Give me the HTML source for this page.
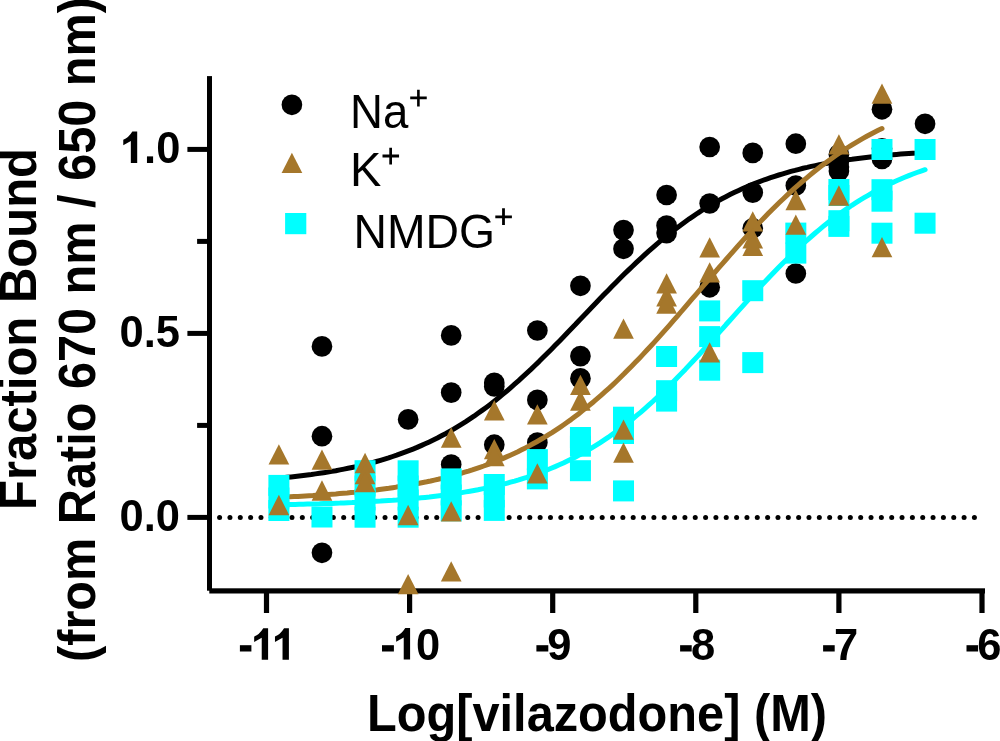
<!DOCTYPE html>
<html><head><meta charset="utf-8"><style>
html,body{margin:0;padding:0;background:#fff;}
body{width:1000px;height:741px;overflow:hidden;position:relative;}
svg{position:absolute;left:0;top:0;will-change:transform;}
text{font-family:"Liberation Sans",sans-serif;fill:#000;}
</style></head><body>
<svg width="1000" height="741" viewBox="0 0 1000 741">
<rect width="1000" height="741" fill="#fff"/>
<g fill="#000">
<rect x="207" y="76.1" width="5" height="514.6"/>
<rect x="209.3" y="588.3" width="775.7" height="5.2"/>
<rect x="187.4" y="146.90" width="22" height="5"/>
<rect x="187.4" y="330.90" width="22" height="5"/>
<rect x="187.4" y="514.90" width="22" height="5"/>
<rect x="197.1" y="238.90" width="12" height="5"/>
<rect x="197.1" y="422.90" width="12" height="5"/>
<rect x="263.90" y="590" width="5.2" height="23"/>
<rect x="407.00" y="590" width="5.2" height="23"/>
<rect x="550.10" y="590" width="5.2" height="23"/>
<rect x="693.20" y="590" width="5.2" height="23"/>
<rect x="836.30" y="590" width="5.2" height="23"/>
<rect x="979.40" y="590" width="5.2" height="23"/>
</g>
<g fill="#000"><circle cx="219.60" cy="517.4" r="2.5"/><circle cx="229.94" cy="517.4" r="2.5"/><circle cx="240.28" cy="517.4" r="2.5"/><circle cx="250.62" cy="517.4" r="2.5"/><circle cx="260.96" cy="517.4" r="2.5"/><circle cx="271.30" cy="517.4" r="2.5"/><circle cx="281.64" cy="517.4" r="2.5"/><circle cx="291.98" cy="517.4" r="2.5"/><circle cx="302.32" cy="517.4" r="2.5"/><circle cx="312.66" cy="517.4" r="2.5"/><circle cx="323.00" cy="517.4" r="2.5"/><circle cx="333.34" cy="517.4" r="2.5"/><circle cx="343.68" cy="517.4" r="2.5"/><circle cx="354.02" cy="517.4" r="2.5"/><circle cx="364.36" cy="517.4" r="2.5"/><circle cx="374.70" cy="517.4" r="2.5"/><circle cx="385.04" cy="517.4" r="2.5"/><circle cx="395.38" cy="517.4" r="2.5"/><circle cx="405.72" cy="517.4" r="2.5"/><circle cx="416.06" cy="517.4" r="2.5"/><circle cx="426.40" cy="517.4" r="2.5"/><circle cx="436.74" cy="517.4" r="2.5"/><circle cx="447.08" cy="517.4" r="2.5"/><circle cx="457.42" cy="517.4" r="2.5"/><circle cx="467.76" cy="517.4" r="2.5"/><circle cx="478.10" cy="517.4" r="2.5"/><circle cx="488.44" cy="517.4" r="2.5"/><circle cx="498.78" cy="517.4" r="2.5"/><circle cx="509.12" cy="517.4" r="2.5"/><circle cx="519.46" cy="517.4" r="2.5"/><circle cx="529.80" cy="517.4" r="2.5"/><circle cx="540.14" cy="517.4" r="2.5"/><circle cx="550.48" cy="517.4" r="2.5"/><circle cx="560.82" cy="517.4" r="2.5"/><circle cx="571.16" cy="517.4" r="2.5"/><circle cx="581.50" cy="517.4" r="2.5"/><circle cx="591.84" cy="517.4" r="2.5"/><circle cx="602.18" cy="517.4" r="2.5"/><circle cx="612.52" cy="517.4" r="2.5"/><circle cx="622.86" cy="517.4" r="2.5"/><circle cx="633.20" cy="517.4" r="2.5"/><circle cx="643.54" cy="517.4" r="2.5"/><circle cx="653.88" cy="517.4" r="2.5"/><circle cx="664.22" cy="517.4" r="2.5"/><circle cx="674.56" cy="517.4" r="2.5"/><circle cx="684.90" cy="517.4" r="2.5"/><circle cx="695.24" cy="517.4" r="2.5"/><circle cx="705.58" cy="517.4" r="2.5"/><circle cx="715.92" cy="517.4" r="2.5"/><circle cx="726.26" cy="517.4" r="2.5"/><circle cx="736.60" cy="517.4" r="2.5"/><circle cx="746.94" cy="517.4" r="2.5"/><circle cx="757.28" cy="517.4" r="2.5"/><circle cx="767.62" cy="517.4" r="2.5"/><circle cx="777.96" cy="517.4" r="2.5"/><circle cx="788.30" cy="517.4" r="2.5"/><circle cx="798.64" cy="517.4" r="2.5"/><circle cx="808.98" cy="517.4" r="2.5"/><circle cx="819.32" cy="517.4" r="2.5"/><circle cx="829.66" cy="517.4" r="2.5"/><circle cx="840.00" cy="517.4" r="2.5"/><circle cx="850.34" cy="517.4" r="2.5"/><circle cx="860.68" cy="517.4" r="2.5"/><circle cx="871.02" cy="517.4" r="2.5"/><circle cx="881.36" cy="517.4" r="2.5"/><circle cx="891.70" cy="517.4" r="2.5"/><circle cx="902.04" cy="517.4" r="2.5"/><circle cx="912.38" cy="517.4" r="2.5"/><circle cx="922.72" cy="517.4" r="2.5"/><circle cx="933.06" cy="517.4" r="2.5"/><circle cx="943.40" cy="517.4" r="2.5"/><circle cx="953.74" cy="517.4" r="2.5"/><circle cx="964.08" cy="517.4" r="2.5"/><circle cx="974.42" cy="517.4" r="2.5"/></g>
<g fill="#000"><circle cx="925.05" cy="123.8" r="10.35"/><circle cx="881.98" cy="109.3" r="10.35"/><circle cx="881.98" cy="148.4" r="10.35"/><circle cx="881.98" cy="158.9" r="10.35"/><circle cx="838.90" cy="154.4" r="10.35"/><circle cx="838.90" cy="161" r="10.35"/><circle cx="838.90" cy="167" r="10.35"/><circle cx="838.90" cy="171" r="10.35"/><circle cx="795.82" cy="143.7" r="10.35"/><circle cx="795.82" cy="185.5" r="10.35"/><circle cx="795.82" cy="273.5" r="10.35"/><circle cx="752.75" cy="152.9" r="10.35"/><circle cx="752.75" cy="192.6" r="10.35"/><circle cx="752.75" cy="228.3" r="10.35"/><circle cx="709.67" cy="147" r="10.35"/><circle cx="709.67" cy="203.5" r="10.35"/><circle cx="709.67" cy="287.3" r="10.35"/><circle cx="666.59" cy="195" r="10.35"/><circle cx="666.59" cy="225.6" r="10.35"/><circle cx="666.59" cy="233.1" r="10.35"/><circle cx="623.51" cy="230.1" r="10.35"/><circle cx="623.51" cy="248.8" r="10.35"/><circle cx="580.44" cy="285.8" r="10.35"/><circle cx="580.44" cy="356.1" r="10.35"/><circle cx="580.44" cy="378.4" r="10.35"/><circle cx="537.36" cy="330.5" r="10.35"/><circle cx="537.36" cy="399.9" r="10.35"/><circle cx="537.36" cy="442.6" r="10.35"/><circle cx="494.28" cy="382.9" r="10.35"/><circle cx="494.28" cy="386.4" r="10.35"/><circle cx="494.28" cy="444.7" r="10.35"/><circle cx="451.20" cy="335.4" r="10.35"/><circle cx="451.20" cy="392.6" r="10.35"/><circle cx="451.20" cy="464.6" r="10.35"/><circle cx="408.13" cy="419.4" r="10.35"/><circle cx="321.97" cy="346.4" r="10.35"/><circle cx="321.97" cy="436.2" r="10.35"/><circle cx="321.97" cy="552.8" r="10.35"/></g>
<path d="M278.9,478.1 283.0,477.7 287.0,477.3 291.1,476.9 295.1,476.5 299.2,476.0 303.3,475.5 307.3,475.0 311.4,474.5 315.5,473.9 319.5,473.3 323.6,472.7 327.7,472.1 331.7,471.4 335.8,470.7 339.9,469.9 343.9,469.1 348.0,468.3 352.0,467.5 356.1,466.6 360.2,465.7 364.2,464.7 368.3,463.7 372.4,462.6 376.4,461.5 380.5,460.3 384.6,459.1 388.6,457.9 392.7,456.5 396.7,455.2 400.8,453.7 404.9,452.2 408.9,450.7 413.0,449.1 417.1,447.4 421.1,445.6 425.2,443.8 429.3,441.9 433.3,440.0 437.4,438.0 441.5,435.8 445.5,433.7 449.6,431.4 453.6,429.1 457.7,426.6 461.8,424.1 465.8,421.6 469.9,418.9 474.0,416.2 478.0,413.3 482.1,410.4 486.2,407.4 490.2,404.4 494.3,401.2 498.3,398.0 502.4,394.6 506.5,391.3 510.5,387.8 514.6,384.2 518.7,380.6 522.7,376.9 526.8,373.2 530.9,369.4 534.9,365.5 539.0,361.6 543.0,357.6 547.1,353.5 551.2,349.4 555.2,345.3 559.3,341.2 563.4,337.0 567.4,332.8 571.5,328.5 575.6,324.3 579.6,320.0 583.7,315.8 587.8,311.5 591.8,307.3 595.9,303.0 599.9,298.8 604.0,294.6 608.1,290.4 612.1,286.3 616.2,282.2 620.3,278.1 624.3,274.1 628.4,270.1 632.5,266.2 636.5,262.4 640.6,258.6 644.6,254.9 648.7,251.2 652.8,247.6 656.8,244.1 660.9,240.7 665.0,237.3 669.0,234.0 673.1,230.8 677.2,227.7 681.2,224.7 685.3,221.7 689.3,218.8 693.4,216.1 697.5,213.3 701.5,210.7 705.6,208.2 709.7,205.7 713.7,203.3 717.8,201.0 721.9,198.8 725.9,196.7 730.0,194.6 734.1,192.6 738.1,190.7 742.2,188.8 746.2,187.0 750.3,185.3 754.4,183.6 758.4,182.1 762.5,180.5 766.6,179.1 770.6,177.7 774.7,176.3 778.8,175.0 782.8,173.8 786.9,172.6 790.9,171.4 795.0,170.4 799.1,169.3 803.1,168.3 807.2,167.4 811.3,166.4 815.3,165.6 819.4,164.7 823.5,163.9 827.5,163.2 831.6,162.4 835.6,161.8 839.7,161.1 843.8,160.5 847.8,159.8 851.9,159.3 856.0,158.7 860.0,158.2 864.1,157.7 868.2,157.2 872.2,156.8 876.3,156.3 880.4,155.9 884.4,155.5 888.5,155.1 892.5,154.8 896.6,154.4 900.7,154.1 904.7,153.8 908.8,153.5 912.9,153.2 916.9,153.0 921.0,152.7 925.1,152.5" fill="none" stroke="#000" stroke-width="5" stroke-linecap="round" stroke-linejoin="round"/>
<path d="M278.9,497.3 282.7,497.2 286.5,497.0 290.3,496.8 294.1,496.6 297.9,496.4 301.7,496.2 305.4,496.0 309.2,495.8 313.0,495.6 316.8,495.3 320.6,495.1 324.4,494.8 328.2,494.5 332.0,494.2 335.8,494.0 339.6,493.6 343.4,493.3 347.2,493.0 351.0,492.6 354.8,492.3 358.5,491.9 362.3,491.5 366.1,491.1 369.9,490.7 373.7,490.2 377.5,489.8 381.3,489.3 385.1,488.8 388.9,488.3 392.7,487.7 396.5,487.1 400.3,486.6 404.1,485.9 407.9,485.3 411.6,484.7 415.4,484.0 419.2,483.3 423.0,482.5 426.8,481.8 430.6,481.0 434.4,480.1 438.2,479.3 442.0,478.4 445.8,477.4 449.6,476.5 453.4,475.5 457.2,474.4 461.0,473.4 464.7,472.2 468.5,471.1 472.3,469.9 476.1,468.6 479.9,467.3 483.7,466.0 487.5,464.6 491.3,463.2 495.1,461.7 498.9,460.2 502.7,458.6 506.5,456.9 510.3,455.2 514.1,453.5 517.9,451.7 521.6,449.8 525.4,447.9 529.2,445.9 533.0,443.8 536.8,441.7 540.6,439.5 544.4,437.3 548.2,434.9 552.0,432.6 555.8,430.1 559.6,427.6 563.4,425.0 567.2,422.3 571.0,419.6 574.7,416.8 578.5,413.9 582.3,410.9 586.1,407.9 589.9,404.8 593.7,401.7 597.5,398.4 601.3,395.1 605.1,391.7 608.9,388.3 612.7,384.8 616.5,381.2 620.3,377.5 624.1,373.8 627.8,370.0 631.6,366.2 635.4,362.3 639.2,358.4 643.0,354.4 646.8,350.3 650.6,346.2 654.4,342.1 658.2,337.9 662.0,333.6 665.8,329.4 669.6,325.1 673.4,320.7 677.2,316.4 680.9,312.0 684.7,307.6 688.5,303.2 692.3,298.7 696.1,294.3 699.9,289.9 703.7,285.4 707.5,281.0 711.3,276.6 715.1,272.1 718.9,267.7 722.7,263.4 726.5,259.0 730.3,254.7 734.1,250.4 737.8,246.1 741.6,241.9 745.4,237.7 749.2,233.6 753.0,229.5 756.8,225.4 760.6,221.4 764.4,217.5 768.2,213.6 772.0,209.8 775.8,206.0 779.6,202.3 783.4,198.7 787.2,195.1 790.9,191.6 794.7,188.1 798.5,184.8 802.3,181.5 806.1,178.3 809.9,175.1 813.7,172.0 817.5,169.0 821.3,166.1 825.1,163.2 828.9,160.4 832.7,157.7 836.5,155.0 840.3,152.4 844.0,149.9 847.8,147.5 851.6,145.1 855.4,142.8 859.2,140.6 863.0,138.4 866.8,136.3 870.6,134.2 874.4,132.2 878.2,130.3 882.0,128.5" fill="none" stroke="#A5772B" stroke-width="5" stroke-linecap="round" stroke-linejoin="round"/>
<path d="M278.9,504.7 283.0,504.6 287.0,504.6 291.1,504.5 295.1,504.4 299.2,504.3 303.3,504.2 307.3,504.1 311.4,504.0 315.5,503.9 319.5,503.8 323.6,503.6 327.7,503.5 331.7,503.4 335.8,503.2 339.9,503.1 343.9,502.9 348.0,502.7 352.0,502.6 356.1,502.4 360.2,502.2 364.2,502.0 368.3,501.8 372.4,501.5 376.4,501.3 380.5,501.1 384.6,500.8 388.6,500.5 392.7,500.3 396.7,500.0 400.8,499.6 404.9,499.3 408.9,499.0 413.0,498.6 417.1,498.2 421.1,497.8 425.2,497.4 429.3,497.0 433.3,496.5 437.4,496.0 441.5,495.5 445.5,495.0 449.6,494.4 453.6,493.9 457.7,493.2 461.8,492.6 465.8,491.9 469.9,491.2 474.0,490.5 478.0,489.8 482.1,488.9 486.2,488.1 490.2,487.2 494.3,486.3 498.3,485.4 502.4,484.4 506.5,483.3 510.5,482.2 514.6,481.1 518.7,479.9 522.7,478.6 526.8,477.4 530.9,476.0 534.9,474.6 539.0,473.1 543.0,471.6 547.1,470.0 551.2,468.3 555.2,466.6 559.3,464.8 563.4,463.0 567.4,461.0 571.5,459.0 575.6,456.9 579.6,454.8 583.7,452.5 587.8,450.2 591.8,447.8 595.9,445.3 599.9,442.8 604.0,440.1 608.1,437.4 612.1,434.5 616.2,431.6 620.3,428.6 624.3,425.5 628.4,422.4 632.5,419.1 636.5,415.7 640.6,412.3 644.6,408.8 648.7,405.2 652.8,401.5 656.8,397.7 660.9,393.9 665.0,390.0 669.0,386.0 673.1,382.0 677.2,377.8 681.2,373.6 685.3,369.4 689.3,365.1 693.4,360.8 697.5,356.4 701.5,352.0 705.6,347.5 709.7,343.0 713.7,338.5 717.8,333.9 721.9,329.4 725.9,324.8 730.0,320.3 734.1,315.7 738.1,311.2 742.2,306.6 746.2,302.1 750.3,297.6 754.4,293.2 758.4,288.8 762.5,284.4 766.6,280.0 770.6,275.8 774.7,271.5 778.8,267.3 782.8,263.2 786.9,259.2 790.9,255.2 795.0,251.3 799.1,247.5 803.1,243.7 807.2,240.1 811.3,236.5 815.3,233.0 819.4,229.6 823.5,226.2 827.5,223.0 831.6,219.8 835.6,216.8 839.7,213.8 843.8,210.9 847.8,208.1 851.9,205.3 856.0,202.7 860.0,200.1 864.1,197.7 868.2,195.3 872.2,193.0 876.3,190.8 880.4,188.6 884.4,186.5 888.5,184.5 892.5,182.6 896.6,180.8 900.7,179.0 904.7,177.3 908.8,175.6 912.9,174.0 916.9,172.5 921.0,171.1 925.1,169.7" fill="none" stroke="#00FFFF" stroke-width="5" stroke-linecap="round" stroke-linejoin="round"/>
<g fill="#00FFFF"><rect x="914.55" y="139.00" width="21" height="21"/><rect x="914.55" y="212.70" width="21" height="21"/><rect x="871.48" y="139.00" width="21" height="21"/><rect x="871.48" y="179.20" width="21" height="21"/><rect x="871.48" y="190.70" width="21" height="21"/><rect x="871.48" y="222.70" width="21" height="21"/><rect x="828.40" y="179.00" width="21" height="21"/><rect x="828.40" y="185.00" width="21" height="21"/><rect x="828.40" y="210.20" width="21" height="21"/><rect x="828.40" y="215.90" width="21" height="21"/><rect x="785.32" y="222.60" width="21" height="21"/><rect x="785.32" y="242.60" width="21" height="21"/><rect x="742.25" y="280.20" width="21" height="21"/><rect x="742.25" y="352.10" width="21" height="21"/><rect x="699.17" y="300.40" width="21" height="21"/><rect x="699.17" y="326.10" width="21" height="21"/><rect x="699.17" y="359.70" width="21" height="21"/><rect x="656.09" y="346.00" width="21" height="21"/><rect x="656.09" y="380.20" width="21" height="21"/><rect x="656.09" y="390.60" width="21" height="21"/><rect x="613.01" y="406.70" width="21" height="21"/><rect x="613.01" y="423.00" width="21" height="21"/><rect x="613.01" y="480.40" width="21" height="21"/><rect x="569.94" y="427.00" width="21" height="21"/><rect x="569.94" y="435.70" width="21" height="21"/><rect x="569.94" y="460.20" width="21" height="21"/><rect x="526.86" y="449.10" width="21" height="21"/><rect x="526.86" y="468.40" width="21" height="21"/><rect x="483.78" y="474.00" width="21" height="21"/><rect x="483.78" y="486.50" width="21" height="21"/><rect x="483.78" y="499.90" width="21" height="21"/><rect x="440.70" y="468.40" width="21" height="21"/><rect x="440.70" y="484.50" width="21" height="21"/><rect x="440.70" y="500.30" width="21" height="21"/><rect x="397.63" y="460.30" width="21" height="21"/><rect x="397.63" y="475.50" width="21" height="21"/><rect x="397.63" y="489.50" width="21" height="21"/><rect x="397.63" y="506.70" width="21" height="21"/><rect x="354.55" y="460.20" width="21" height="21"/><rect x="354.55" y="475.50" width="21" height="21"/><rect x="354.55" y="489.50" width="21" height="21"/><rect x="354.55" y="506.70" width="21" height="21"/><rect x="311.47" y="506.50" width="21" height="21"/><rect x="268.39" y="474.90" width="21" height="21"/><rect x="268.39" y="487.50" width="21" height="21"/><rect x="268.39" y="500.00" width="21" height="21"/></g>
<g fill="#A5772B"><path d="M881.98,83.45L892.33,103.75L871.63,103.75Z"/><path d="M881.98,237.05L892.33,257.35L871.63,257.35Z"/><path d="M838.90,134.15L849.25,154.45L828.55,154.45Z"/><path d="M838.90,185.35L849.25,205.65L828.55,205.65Z"/><path d="M795.82,189.85L806.17,210.15L785.47,210.15Z"/><path d="M795.82,214.55L806.17,234.85L785.47,234.85Z"/><path d="M752.75,211.15L763.10,231.45L742.40,231.45Z"/><path d="M752.75,228.25L763.10,248.55L742.40,248.55Z"/><path d="M752.75,235.65L763.10,255.95L742.40,255.95Z"/><path d="M709.67,237.25L720.02,257.55L699.32,257.55Z"/><path d="M709.67,262.15L720.02,282.45L699.32,282.45Z"/><path d="M709.67,342.25L720.02,362.55L699.32,362.55Z"/><path d="M666.59,273.25L676.94,293.55L656.24,293.55Z"/><path d="M666.59,286.25L676.94,306.55L656.24,306.55Z"/><path d="M666.59,293.35L676.94,313.65L656.24,313.65Z"/><path d="M623.51,318.45L633.86,338.75L613.16,338.75Z"/><path d="M623.51,419.55L633.86,439.85L613.16,439.85Z"/><path d="M623.51,442.55L633.86,462.85L613.16,462.85Z"/><path d="M580.44,374.75L590.79,395.05L570.09,395.05Z"/><path d="M580.44,390.35L590.79,410.65L570.09,410.65Z"/><path d="M537.36,404.25L547.71,424.55L527.01,424.55Z"/><path d="M537.36,463.25L547.71,483.55L527.01,483.55Z"/><path d="M494.28,400.25L504.63,420.55L483.93,420.55Z"/><path d="M494.28,439.05L504.63,459.35L483.93,459.35Z"/><path d="M494.28,446.05L504.63,466.35L483.93,466.35Z"/><path d="M451.20,427.35L461.55,447.65L440.85,447.65Z"/><path d="M451.20,501.15L461.55,521.45L440.85,521.45Z"/><path d="M451.20,561.25L461.55,581.55L440.85,581.55Z"/><path d="M408.13,504.85L418.48,525.15L397.78,525.15Z"/><path d="M408.13,574.05L418.48,594.35L397.78,594.35Z"/><path d="M365.05,452.85L375.40,473.15L354.70,473.15Z"/><path d="M365.05,464.05L375.40,484.35L354.70,484.35Z"/><path d="M365.05,472.05L375.40,492.35L354.70,492.35Z"/><path d="M321.97,449.45L332.32,469.75L311.62,469.75Z"/><path d="M321.97,480.35L332.32,500.65L311.62,500.65Z"/><path d="M278.89,444.15L289.24,464.45L268.54,464.45Z"/><path d="M278.89,494.85L289.24,515.15L268.54,515.15Z"/></g>
<g fill="#000">
<path d="M132.35,131.50 Q128.42,137.95 123.27,139.67 L123.27,145.13 L130.83,140.89 L130.83,163.00 L137.20,163.00 L137.20,131.50Z"/>
<text transform="translate(144.1,163.2) scale(1,1.03)" font-size="43.5" font-weight="bold">.0</text>
<text transform="translate(180,347.2) scale(1,1.03)" font-size="43.5" font-weight="bold" text-anchor="end">0.5</text>
<text transform="translate(180,531.2) scale(1,1.03)" font-size="43.5" font-weight="bold" text-anchor="end">0.0</text>
<rect x="239.9" y="645.2" width="11.5" height="6.3"/>
<rect x="382" y="645.2" width="11.9" height="6.3"/>
<rect x="536.4" y="645.2" width="11.9" height="6.3"/>
<rect x="680.1" y="645.2" width="11.6" height="6.3"/>
<rect x="823.1" y="645.2" width="11.6" height="6.3"/>
<rect x="966.5" y="645.2" width="11.6" height="6.3"/>
<path d="M263.25,628.30 Q259.32,634.75 254.17,636.47 L254.17,641.93 L261.73,637.69 L261.73,659.80 L268.10,659.80 L268.10,628.30Z"/>
<path d="M284.05,628.30 Q280.12,634.75 274.97,636.47 L274.97,641.93 L282.53,637.69 L282.53,659.80 L288.90,659.80 L288.90,628.30Z"/>
<path d="M405.25,628.10 Q401.32,634.55 396.17,636.27 L396.17,641.73 L403.73,637.49 L403.73,659.60 L410.10,659.60 L410.10,628.10Z"/>
<text transform="translate(416.0,659.8) scale(1,1.03)" font-size="43.5" font-weight="bold">0</text>
<text transform="translate(547.3,659.8) scale(1,1.03)" font-size="43.5" font-weight="bold">9</text>
<text transform="translate(691.1,659.8) scale(1,1.03)" font-size="43.5" font-weight="bold">8</text>
<text transform="translate(834.1,659.8) scale(1,1.03)" font-size="43.5" font-weight="bold">7</text>
<text transform="translate(977.3,659.8) scale(1,1.03)" font-size="43.5" font-weight="bold">6</text>
</g>
<text transform="translate(367,730.6) scale(1,1.02)" font-size="50" font-weight="bold" text-anchor="start" textLength="460" lengthAdjust="spacingAndGlyphs">Log[vilazodone] (M)</text>
<text transform="translate(36,510) rotate(-90) scale(1,1.02)" font-size="50" font-weight="bold" text-anchor="start" textLength="362" lengthAdjust="spacingAndGlyphs">Fraction Bound</text>
<text transform="translate(95.1,662) rotate(-90) scale(1,1.02)" font-size="50" font-weight="bold" text-anchor="start" textLength="665" lengthAdjust="spacingAndGlyphs">(from Ratio 670 nm / 650 nm)</text>
<circle cx="291.9" cy="104.8" r="10.35" fill="#000"/>
<path d="M291.9,152.7L302.3,173.1L281.6,173.1Z" fill="#A5772B"/>
<rect x="285.1" y="213" width="21.2" height="21.2" fill="#00FFFF"/>
<text transform="translate(350,128.2) scale(1,1.025)" font-size="47" font-weight="normal" text-anchor="start" textLength="58.3" lengthAdjust="spacingAndGlyphs">Na</text>
<text transform="translate(350,186) scale(1,1.025)" font-size="47" font-weight="normal" text-anchor="start">K</text>
<text transform="translate(353.5,247.5) scale(1,1.035)" font-size="47" font-weight="normal" text-anchor="start" textLength="141.5" lengthAdjust="spacingAndGlyphs">NMDG</text>
<path d="M410.2,96.6H426.75V99.2H410.2Z M417.1,89.7H419.7V106.4H417.1Z" fill="#000"/>
<path d="M382.5,154.6H399.05V157.4H382.5Z M389.3,147.7H392.0V164.4H389.3Z" fill="#000"/>
<path d="M495.3,215.5H511.9V218.3H495.3Z M502.1,208.3H504.9V225.0H502.1Z" fill="#000"/>
</svg></body></html>
